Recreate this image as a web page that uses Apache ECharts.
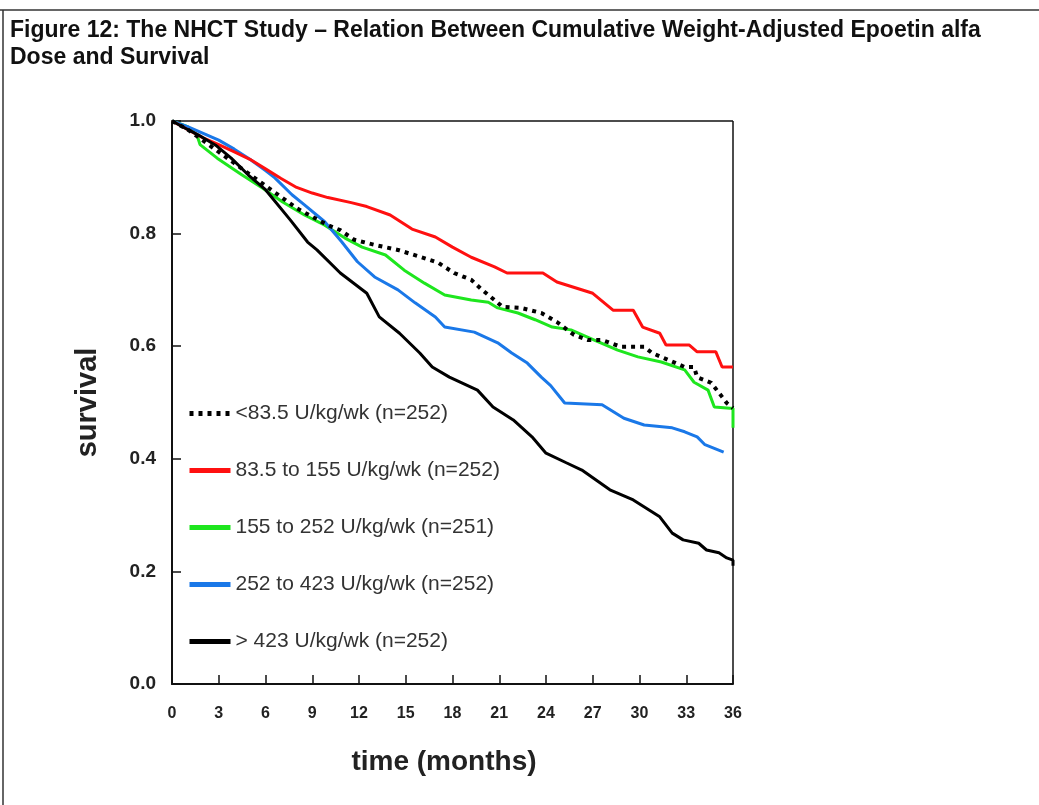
<!DOCTYPE html>
<html>
<head>
<meta charset="utf-8">
<script src="https://cdn.jsdelivr.net/npm/echarts@6/dist/echarts.min.js"></script>
<style>
  html, body { margin: 0; padding: 0; background: #fff; }
  #chart { width: 1039px; height: 805px; }
</style>
</head>
<body>
<div id="chart"></div>
<script>
// survival curves, [month, survival]
const lowDose = [[0,1],[1,0.985],[2,0.965],[3,0.945],[4,0.925],[5,0.905],[6,0.885],[7,0.865],[8,0.845],[9,0.83],[10,0.815],[10.8,0.806],[11.7,0.789],[13,0.78],[14.5,0.771],[16,0.758],[17.1,0.748],[18.1,0.73],[19.2,0.718],[19.9,0.7],[20.7,0.682],[21.2,0.67],[22.4,0.668],[23.7,0.659],[24.7,0.643],[25.8,0.62],[26.7,0.611],[27.6,0.611],[28.8,0.599],[30.3,0.599],[30.8,0.588],[32.9,0.563],[33.5,0.563],[33.7,0.545],[34.6,0.535],[35.3,0.51],[35.6,0.499],[36,0.49]];
const midLowDose = [[0,1],[1,0.985],[2,0.97],[3,0.958],[4,0.945],[5,0.932],[6,0.915],[7,0.898],[8,0.882],[9,0.872],[10,0.864],[11.5,0.855],[12.5,0.848],[14,0.833],[15.4,0.808],[16.9,0.794],[18,0.776],[19.2,0.758],[20.7,0.741],[21.5,0.73],[23.8,0.73],[24.7,0.714],[27,0.694],[28.3,0.664],[29.6,0.664],[30.2,0.634],[31.3,0.623],[31.7,0.602],[33.2,0.602],[33.7,0.59],[34.9,0.59],[35.3,0.563],[36,0.563]];
const midDose = [[0,1],[1,0.99],[1.6,0.975],[1.8,0.958],[2.9,0.934],[4.5,0.904],[5.8,0.881],[7.1,0.856],[8.5,0.833],[9.8,0.815],[11.1,0.792],[12.2,0.776],[13.7,0.762],[14.9,0.735],[16.2,0.712],[17.5,0.691],[19.2,0.682],[20.3,0.678],[20.9,0.668],[22.2,0.659],[23.3,0.647],[24.4,0.634],[25.6,0.629],[27.1,0.611],[28.6,0.593],[29.9,0.581],[31.4,0.572],[32.9,0.558],[33.5,0.536],[34.4,0.522],[34.8,0.492],[35.8,0.49],[36,0.49],[36,0.455]];
const midHighDose = [[0,1],[1,0.99],[2,0.978],[3,0.966],[4,0.95],[5,0.932],[6,0.912],[6.6,0.899],[7.7,0.869],[8.5,0.851],[9.8,0.821],[10.9,0.785],[11.9,0.75],[13,0.723],[14.5,0.7],[15.6,0.677],[16.9,0.652],[17.5,0.634],[19.4,0.625],[20.9,0.606],[21.8,0.588],[22.8,0.57],[23.7,0.545],[24.3,0.53],[25.2,0.499],[27.6,0.496],[29,0.472],[30.3,0.46],[32.1,0.455],[32.9,0.448],[33.7,0.439],[34.2,0.425],[35.4,0.412]];
const highDose = [[0,1],[1,0.985],[1.7,0.975],[2.8,0.957],[3.8,0.934],[4.9,0.904],[6,0.878],[7.6,0.824],[8.7,0.785],[9.3,0.771],[10.8,0.73],[12.5,0.694],[13.3,0.652],[14.6,0.623],[15.9,0.588],[16.7,0.563],[17.8,0.545],[19.6,0.522],[20.6,0.492],[21.9,0.469],[23.1,0.439],[24,0.41],[25.3,0.393],[26.3,0.38],[28.1,0.345],[29.6,0.327],[31.3,0.297],[32.1,0.268],[32.8,0.256],[33.8,0.25],[34.3,0.238],[35.1,0.233],[35.6,0.224],[36,0.22],[36,0.21]];

const groupNames = ['<83.5 U/kg/wk (n=252)', '83.5 to 155 U/kg/wk (n=252)', '155 to 252 U/kg/wk (n=251)', '252 to 423 U/kg/wk (n=252)', '> 423 U/kg/wk (n=252)'];
const xTicks = [0, 3, 6, 9, 12, 15, 18, 21, 24, 27, 30, 33, 36];
const yTicks = [0, 0.2, 0.4, 0.6, 0.8, 1.0];

const chart = echarts.init(document.getElementById('chart'));

function curve(name, data, color, z, dotted) {
  return {
    name: name,
    type: 'line',
    data: data,
    symbol: 'none',
    z: z,
    lineStyle: {
      color: color,
      width: dotted ? 4 : 3,
      type: dotted ? [4, 5] : 'solid',
      cap: 'butt'
    },
    itemStyle: { color: color }
  };
}

chart.setOption({
  backgroundColor: '#fff',
  animation: false,
  title: {
    text: 'Figure 12: The NHCT Study \u2013 Relation Between Cumulative Weight-Adjusted Epoetin alfa\nDose and Survival',
    left: 10,
    top: 17,
    padding: 0,
    textStyle: {
      fontFamily: 'Liberation Sans',
      fontWeight: 'bold',
      fontSize: 23,
      lineHeight: 27,
      color: '#111'
    }
  },
  graphic: [
    { type: 'line', shape: { x1: 0, y1: 10, x2: 1039, y2: 10 }, style: { stroke: '#333', lineWidth: 1.5 } },
    { type: 'line', shape: { x1: 3, y1: 10, x2: 3, y2: 805 }, style: { stroke: '#333', lineWidth: 1.5 } },
    { type: 'line', shape: { x1: 172, y1: 121, x2: 733, y2: 121 }, style: { stroke: '#111', lineWidth: 1.5 } },
    { type: 'line', shape: { x1: 733, y1: 121, x2: 733, y2: 684 }, style: { stroke: '#111', lineWidth: 1.5 } }
  ],
  legend: {
    data: groupNames,
    orient: 'vertical',
    left: 187,
    top: 403,
    padding: 0,
    itemWidth: 41,
    itemHeight: 14,
    itemGap: 36,
    itemStyle: { opacity: 0 },
    lineStyle: { width: 5 },
    textStyle: {
      fontFamily: 'Liberation Sans',
      fontSize: 21,
      color: '#333'
    }
  },
  grid: { left: 172, right: 306, top: 121, bottom: 121 },
  xAxis: {
    type: 'value',
    min: 0,
    max: 36,
    interval: 3,
    name: 'time (months)',
    nameLocation: 'middle',
    nameGap: 64,
    nameTextStyle: { fontFamily: 'Liberation Sans', fontWeight: 'bold', fontSize: 28, color: '#222', padding: [0, 17, 0, 0] },
    axisLine: { lineStyle: { color: '#111', width: 2 } },
    axisTick: { inside: true, length: 9, lineStyle: { color: '#111', width: 1.5 } },
    axisLabel: {
      margin: 22,
      fontFamily: 'Liberation Sans',
      fontWeight: 'bold',
      fontSize: 16,
      color: '#222',
      formatter: v => xTicks.includes(v) ? String(v) : ''
    },
    splitLine: { show: false }
  },
  yAxis: {
    type: 'value',
    min: 0,
    max: 1,
    interval: 0.2,
    name: 'survival',
    nameLocation: 'middle',
    nameGap: 70,
    nameTextStyle: { fontFamily: 'Liberation Sans', fontWeight: 'bold', fontSize: 29, color: '#222' },
    axisLine: { show: true, lineStyle: { color: '#111', width: 2 } },
    axisTick: { show: true, inside: true, length: 9, lineStyle: { color: '#111', width: 1.5 } },
    axisLabel: {
      margin: 16,
      fontFamily: 'Liberation Sans',
      fontWeight: 'bold',
      fontSize: 19,
      color: '#222',
      formatter: v => yTicks.some(t => Math.abs(t - v) < 1e-9) ? v.toFixed(1) : ''
    },
    splitLine: { show: false }
  },
  series: [
    curve(groupNames[0], lowDose, '#000000', 6, true),
    curve(groupNames[1], midLowDose, '#ff1010', 4, false),
    curve(groupNames[2], midDose, '#1ee61e', 3, false),
    curve(groupNames[3], midHighDose, '#1a78e8', 3, false),
    curve(groupNames[4], highDose, '#000000', 5, false)
  ]
});
</script>
</body>
</html>
